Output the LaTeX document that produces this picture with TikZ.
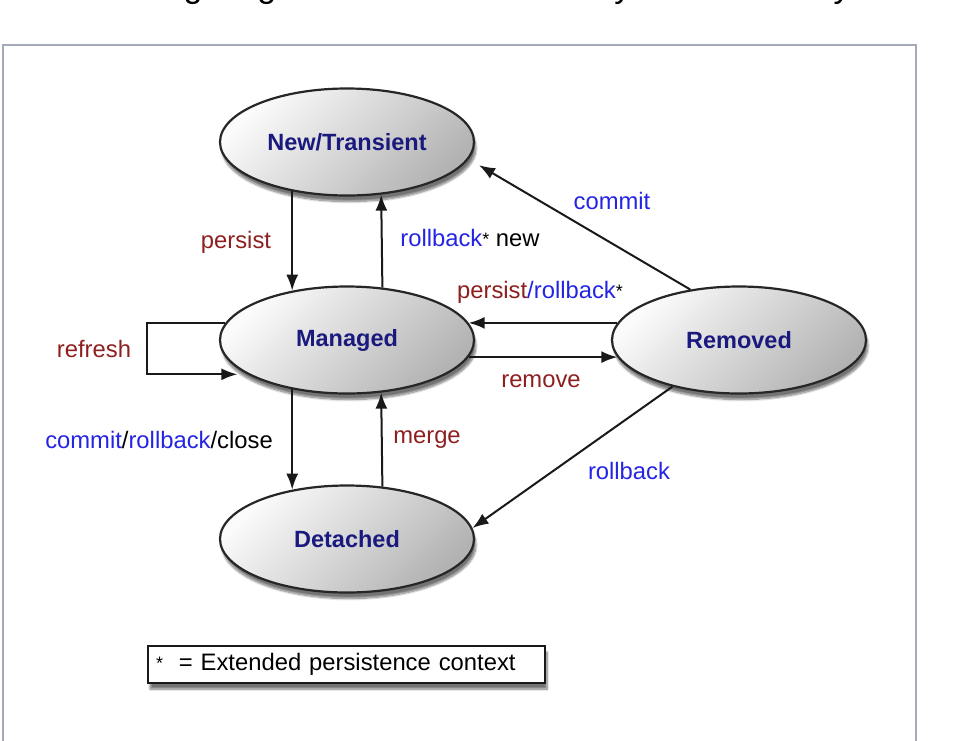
\documentclass[tikz,border=0pt]{standalone}
\usepackage{fontspec}
\setmainfont{Liberation Sans}
\usetikzlibrary{shapes.geometric,arrows.meta,shadows.blur}
\definecolor{navy}{HTML}{1A1A7E}
\definecolor{lblblue}{HTML}{2424E4}
\definecolor{lblred}{HTML}{8E1F1F}
\definecolor{framegray}{HTML}{A4ABB6}
\tikzset{
  state/.style={ellipse, minimum width=254pt, minimum height=107pt, inner sep=0pt,
    draw=black!85, line width=2.2pt, top color=gray!3, bottom color=gray!60, shading angle=45,
    blur shadow={shadow xshift=2pt, shadow yshift=-6pt, shadow blur steps=10, shadow opacity=55},
    text=navy, font=\fontsize{23.5}{28}\selectfont\bfseries},
  lbl/.style={font=\fontsize{23.8}{28}\selectfont, inner sep=1pt},
  arr/.style={-{Latex[length=16pt,width=12pt]}, line width=2pt, draw=black!90}
}
\newcommand{\smallstar}{\raisebox{1pt}{\fontsize{18}{18}\selectfont*}}
\begin{document}
\begin{tikzpicture}[x=1pt,y=-1pt]
\useasboundingbox (0,0) rectangle (974,740);
\begin{scope}
\clip (0,0) rectangle (974,740);
\node[anchor=base west, inner sep=0pt, font=\fontsize{34}{40}\selectfont] (toptext) at (2,-2.5) {The following diagram illustrates the lifecycle of an entity instance.};
\draw[framegray, line width=2pt] (3,45) rectangle (916,770);
\end{scope}

\node[state] (nt) at (347,142) {New/Transient};
\node[state] (mg) at (347,340) {Managed};
\node[state] (rm) at (739,340) {Removed};
\node[state] (dt) at (347,539) {Detached};

% vertical arrows
\draw[arr] (nt.222) -- (mg.138);
\draw[arr] (mg.56.6) -- (nt.303.4);
\draw[arr] (mg.222) -- (dt.138);
\draw[arr] (dt.56.6) -- (mg.303.4);
% horizontal arrows
\draw[arr] (rm.172) -- (mg.8);
\draw[arr] (mg.-8) -- (rm.188);
% refresh loop
\draw[arr, shorten >=10pt] (mg.172) -- ++(-78,0) |- (mg.199);
% diagonal arrows
\draw[arr, shorten >=12pt] (rm.134) -- (nt.-8);
\draw[arr] (rm.215) -- (dt.5);

% labels
\node[lbl, text=lblred] (lpersist) at (236,242) {persist};
\node[lbl] (lrbnew) at (470,238) {\textcolor{lblblue}{rollback}\smallstar{} new};
\node[lbl, text=lblblue] (lcommit) at (612,201) {commit};
\node[lbl] (lprb) at (540,292) {\textcolor{lblred}{persist}\textcolor{lblblue}{/rollback}\smallstar};
\node[lbl, text=lblred] (lremove) at (541,381) {remove};
\node[lbl, text=lblred] (lrefresh) at (94,349) {refresh};
\node[lbl] (lcrc) at (159,440) {\textcolor{lblblue}{commit}/\textcolor{lblblue}{rollback}/close};
\node[lbl, text=lblred] (lmerge) at (427,440) {merge};
\node[lbl, text=lblblue] (lrollback) at (629,471) {rollback};

% legend
\node[draw=black!90, line width=2pt, fill=white,
  blur shadow={shadow xshift=2pt, shadow yshift=-6pt, shadow blur steps=10, shadow opacity=55},
  text width=381pt, align=left, inner xsep=8pt, minimum height=37pt, inner ysep=0pt,
  font=\fontsize{23.8}{28}\selectfont] (legend) at (346.5,664.5) {\smallstar{}\ \ = Extended persistence context};
\end{tikzpicture}
\end{document}
